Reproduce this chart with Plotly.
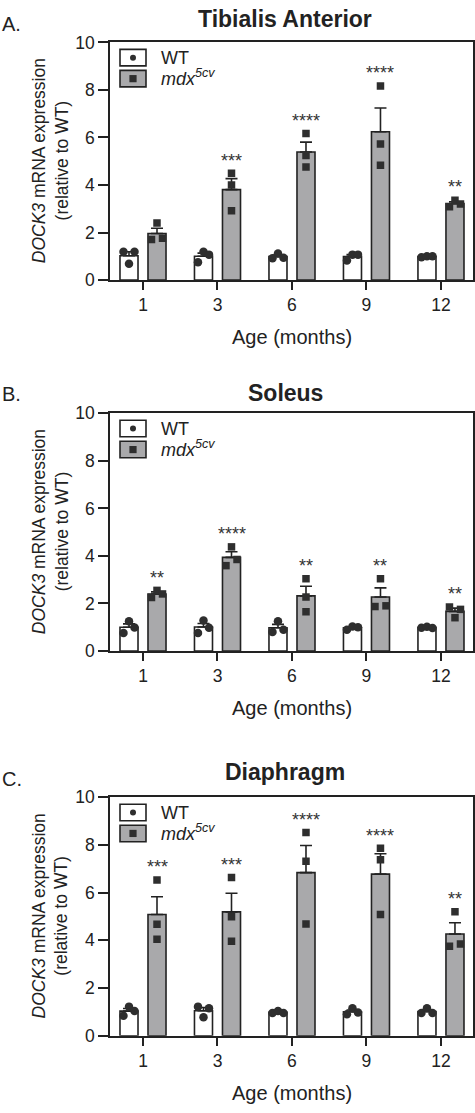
import numpy as np
import plotly.graph_objects as go

# ---------------- data ----------------
ages = ["1", "3", "6", "9", "12"]

ta_wt = [[1.19, 0.69, 1.19], [1.19, 0.75, 1.07], [0.92, 1.12, 0.94], [0.82, 1.07, 1.07], [0.96, 1.00, 1.00]]
ta_mdx = [[1.71, 2.40, 1.76], [4.49, 4.00, 2.92], [6.17, 5.24, 4.76], [8.17, 5.73, 4.83], [3.09, 3.36, 3.20]]
ta_sig = ["", "***", "****", "****", "**"]

sol_wt = [[1.25, 0.76, 0.99], [1.28, 0.76, 0.98], [0.80, 1.25, 0.89], [0.89, 1.03, 1.00], [0.98, 1.02, 0.97]]
sol_mdx = [[2.55, 2.25, 2.40], [4.38, 3.59, 3.85], [3.04, 2.27, 1.65], [3.04, 1.87, 1.90], [1.85, 1.40, 1.75]]
sol_sig = ["**", "****", "**", "**", "**"]

dia_wt = [[1.22, 0.84, 1.04], [1.22, 0.77, 1.15], [0.95, 1.04, 0.95], [0.90, 1.15, 0.97], [0.95, 1.15, 0.95]]
dia_mdx = [[6.53, 4.67, 4.05], [6.63, 4.99, 3.96], [8.52, 7.32, 4.68], [7.86, 7.38, 5.08], [5.20, 3.75, 3.85]]
dia_sig = ["***", "***", "****", "****", "**"]

panels = [
    ("A.", "Tibialis Anterior", ta_wt, ta_mdx, ta_sig),
    ("B.", "Soleus", sol_wt, sol_mdx, sol_sig),
    ("C.", "Diaphragm", dia_wt, dia_mdx, dia_sig),
]

# ---------------- style / layout constants ----------------
W, H = 475, 1113
FONT = "Arial, Liberation Sans, Helvetica, sans-serif"
INK = "#222222"
DOT = "#2e2e2e"
GRAY = "#a9a9ab"
X_LEFT_PX, X_RIGHT_PX = 110, 473
PANEL_PX = [(33, 275), (410.7, 652.7), (801.6, 1044.5)]  # (top, bottom) pixel rows
TITLE_SHIFT = [23.5, 20.7, 25.3]
LETTER_SHIFT = [18, 19, 18.6]
BAR_OFF = 0.188
BAR_W = 0.242
JIT = 0.074
CLUSTER_DY = 0.33


def swarm(vals):
    """Horizontal offsets: points close in y are spread symmetrically."""
    idx = sorted(range(len(vals)), key=lambda i: vals[i])
    clusters, cur = [], [idx[0]]
    for a, b in zip(idx[:-1], idx[1:]):
        if vals[b] - vals[a] < CLUSTER_DY:
            cur.append(b)
        else:
            clusters.append(cur)
            cur = [b]
    clusters.append(cur)
    offs = [0.0] * len(vals)
    for c in clusters:
        if len(c) == 2:
            c = sorted(c)
            offs[c[0]], offs[c[1]] = -JIT, JIT
        elif len(c) >= 3:
            top = max(c, key=lambda i: vals[i])
            rest = sorted(i for i in c if i != top)
            offs[top] = 0.0
            offs[rest[0]], offs[rest[1]] = -JIT, JIT
    return offs


fig = go.Figure()
pos = np.arange(len(ages))
annotations = []
shapes = []

for p, (letter, title, wt, mdx, sig) in enumerate(panels):
    n = p + 1
    xa = "x" if n == 1 else f"x{n}"
    ya = "y" if n == 1 else f"y{n}"
    xdom = f"{xa} domain"
    ydom = f"{ya} domain"
    top_px, bot_px = PANEL_PX[p]

    for vals_all, sign, fill, sym, msize in [
        (wt, -1, "white", "circle", 8.5),
        (mdx, 1, GRAY, "square", 7.5),
    ]:
        arr = np.array(vals_all, dtype=float)
        means = arr.mean(axis=1)
        sems = arr.std(axis=1, ddof=1) / np.sqrt(arr.shape[1])
        xc = pos + sign * BAR_OFF
        fig.add_trace(go.Bar(
            x=xc, y=means, width=BAR_W, xaxis=xa, yaxis=ya,
            marker=dict(color=fill, line=dict(color=INK, width=1.6)),
            error_y=dict(type="data", symmetric=False, array=sems,
                         arrayminus=np.zeros_like(sems), color=INK,
                         thickness=1.6, width=6),
            showlegend=False, hoverinfo="skip",
        ))
        px, py = [], []
        for i, vals in enumerate(vals_all):
            offs = swarm(vals)
            for v, o in zip(vals, offs):
                px.append(xc[i] + o)
                py.append(v)
        fig.add_trace(go.Scatter(
            x=px, y=py, mode="markers", xaxis=xa, yaxis=ya,
            marker=dict(symbol=sym, size=msize, color=DOT, line=dict(width=0)),
            showlegend=False, hoverinfo="skip",
        ))
        if sign == 1:
            for i, s in enumerate(sig):
                if not s:
                    continue
                ytop = max(max(vals_all[i]), means[i] + sems[i])
                annotations.append(dict(
                    x=xc[i], y=ytop + 0.03, xref=xa, yref=ya, text=s,
                    showarrow=False, xanchor="center", yanchor="bottom",
                    font=dict(size=18, color="#333333", family=FONT),
                ))

    dom_x = [X_LEFT_PX / W, X_RIGHT_PX / W]
    dom_y = [1 - bot_px / H, 1 - top_px / H]
    axis_common = dict(showline=True, linecolor=INK, linewidth=1.6, mirror=True,
                       showgrid=False, zeroline=False, ticks="outside",
                       tickcolor=INK, tickwidth=1.6,
                       tickfont=dict(size=17.5, color="#222222", family=FONT))
    fig.update_layout(**{
        ("xaxis" if n == 1 else f"xaxis{n}"): dict(
            domain=dom_x, range=[-0.443, 4.43], tickmode="array",
            tickvals=pos, ticktext=ages, ticklen=8, anchor=ya, **axis_common),
        ("yaxis" if n == 1 else f"yaxis{n}"): dict(
            domain=dom_y, range=[0, 10], tickmode="array",
            tickvals=[0, 2, 4, 6, 8, 10], ticklen=10, anchor=xa, **axis_common),
    })

    # legend (drawn manually to mirror the original's boxed swatches)
    for k, (fill, kind) in enumerate([("white", "circle"), (GRAY, "rect")]):
        y_top = -7 - 21 * k
        shapes.append(dict(type="rect", xref=xdom, yref=ydom,
                           xsizemode="pixel", ysizemode="pixel",
                           xanchor=0, yanchor=1, x0=10, x1=36,
                           y0=y_top - 16.5, y1=y_top,
                           fillcolor=fill, line=dict(color=INK, width=1.6)))
        cy = y_top - 8.25
        half = 3 if kind == "circle" else 3.6
        shapes.append(dict(type=kind, xref=xdom, yref=ydom,
                           xsizemode="pixel", ysizemode="pixel",
                           xanchor=0, yanchor=1, x0=23 - half, x1=23 + half,
                           y0=cy - half, y1=cy + half,
                           fillcolor=DOT, line=dict(width=0)))
    annotations.append(dict(x=0, y=1, xref=xdom, yref=ydom, xshift=49, yshift=-15.5,
                            text="WT", showarrow=False, xanchor="left", yanchor="middle",
                            font=dict(size=18, color="#222222", family=FONT)))
    annotations.append(dict(x=0, y=1, xref=xdom, yref=ydom, xshift=49, yshift=-35,
                            text="<i>mdx</i><sup><i>5cv</i></sup>", showarrow=False,
                            xanchor="left", yanchor="middle",
                            font=dict(size=18, color="#222222", family=FONT)))

    # titles, letters, axis titles
    annotations.append(dict(x=285 / W, y=1, xref="paper", yref=ydom, yshift=TITLE_SHIFT[p],
                            text=f"<b>{title}</b>", showarrow=False,
                            xanchor="center", yanchor="middle",
                            font=dict(size=23, color="#222222", family=FONT)))
    annotations.append(dict(x=0.0, y=1, xref="paper", yref=ydom, yshift=LETTER_SHIFT[p],
                            text=letter, showarrow=False, xanchor="left", yanchor="middle",
                            font=dict(size=20, color="#222222", family=FONT)))
    annotations.append(dict(x=50 / W, y=0.5, xref="paper", yref=ydom,
                            text="<i>DOCK3</i> mRNA expression<br>(relative to WT)",
                            showarrow=False, textangle=-90,
                            xanchor="center", yanchor="middle",
                            font=dict(size=17.5, color="#222222", family=FONT)))
    annotations.append(dict(x=0.5, y=0, xref=xdom, yref=ydom, yshift=-57,
                            text="Age (months)", showarrow=False,
                            xanchor="center", yanchor="middle",
                            font=dict(size=20, color="#222222", family=FONT)))

fig.update_layout(
    width=W, height=H, margin=dict(l=0, r=0, t=0, b=0),
    paper_bgcolor="white", plot_bgcolor="white",
    showlegend=False, barmode="overlay",
    annotations=annotations, shapes=shapes,
    font=dict(family=FONT, color="#222222"),
)

fig.write_html("out.html", config={"displayModeBar": False},
               post_script="document.body.style.margin='0';document.body.style.overflow='hidden';")
